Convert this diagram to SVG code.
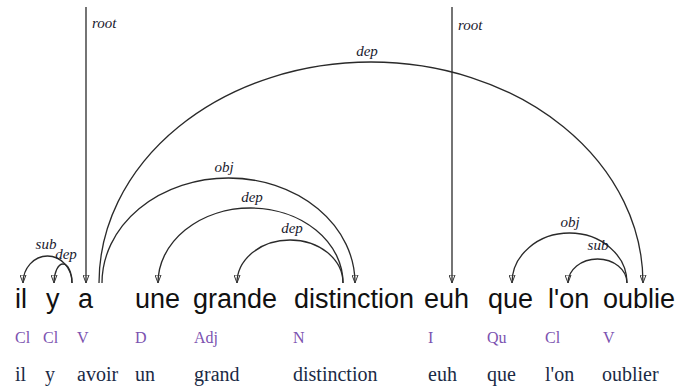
<svg xmlns="http://www.w3.org/2000/svg" width="677" height="389" viewBox="0 0 677 389">
<defs>
<marker id="ah" viewBox="0 0 9 7" refX="8.5" refY="3.5" markerWidth="9" markerHeight="7" markerUnits="userSpaceOnUse" orient="auto">
<path d="M0.5,0.5 L8.5,3.5 L0.5,6.5 Z" fill="none" stroke="#333" stroke-width="1"/>
</marker>
<style>
.e{fill:none;stroke:#2a2a2a;stroke-width:1.3;marker-end:url(#ah)}
.w{font-family:"Liberation Sans",Arial,sans-serif;font-size:27px;fill:#111}
.p{font-family:"Liberation Serif","Times New Roman",serif;font-size:16px;fill:#7b52b0}
.l{font-family:"Liberation Serif","Times New Roman",serif;font-size:20px;fill:#1a2a45}
.lb{font-family:"Liberation Serif","Times New Roman",serif;font-size:15px;font-style:italic;fill:#1a1a2e;text-anchor:middle}
.rt{font-family:"Liberation Serif","Times New Roman",serif;font-size:15px;font-style:italic;fill:#1a1a2e}
</style>
</defs>
<rect width="677" height="389" fill="#fff"/>
<g id="connectors">
<path class="e" d="M86,7 L86,283"/>
<path class="e" d="M452,7 L452,283"/>
<path class="e" d="M72,283 A24.5,27 0 0 0 23,283"/>
<path class="e" d="M72,283 A9,19 0 0 0 54,283"/>
<path class="e" d="M102,283 A126.5,105 0 0 1 355,283"/>
<path class="e" d="M99,283 A272,221 0 0 1 643,283"/>
<path class="e" d="M343,283 A92.5,75 0 0 0 158,283"/>
<path class="e" d="M343,283 A53,43 0 0 0 237,283"/>
<path class="e" d="M627,283 A57.5,50 0 0 0 512,283"/>
<path class="e" d="M627,283 A29.5,24 0 0 0 568,283"/>
</g>
<g id="edge-labels">
<text class="rt" x="92" y="28">root</text>
<text class="rt" x="458" y="30">root</text>
<text class="lb" x="46" y="249">sub</text>
<text class="lb" x="66" y="259">dep</text>
<text class="lb" x="224" y="172">obj</text>
<text class="lb" x="367" y="56">dep</text>
<text class="lb" x="252" y="202">dep</text>
<text class="lb" x="292" y="233">dep</text>
<text class="lb" x="570" y="227">obj</text>
<text class="lb" x="598" y="250">sub</text>
</g>
<g id="n-il"><text class="w" x="15" y="308">il</text><text class="p" x="15" y="343">Cl</text><text class="l" x="15" y="381">il</text></g>
<g id="n-y"><text class="w" x="46" y="308">y</text><text class="p" x="43" y="343">Cl</text><text class="l" x="45" y="381">y</text></g>
<g id="n-a"><text class="w" x="78" y="308">a</text><text class="p" x="77" y="343">V</text><text class="l" x="77" y="381">avoir</text></g>
<g id="n-une"><text class="w" x="135" y="308">une</text><text class="p" x="135" y="343">D</text><text class="l" x="135" y="381">un</text></g>
<g id="n-grande"><text class="w" x="193" y="308">grande</text><text class="p" x="194" y="343">Adj</text><text class="l" x="194" y="381">grand</text></g>
<g id="n-distinction"><text class="w" x="294" y="308">distinction</text><text class="p" x="293" y="343">N</text><text class="l" x="293" y="381">distinction</text></g>
<g id="n-euh"><text class="w" x="424" y="308">euh</text><text class="p" x="428" y="343">I</text><text class="l" x="428" y="381">euh</text></g>
<g id="n-que"><text class="w" x="488" y="308">que</text><text class="p" x="487" y="343">Qu</text><text class="l" x="487" y="381">que</text></g>
<g id="n-lon"><text class="w" x="548" y="308">l'on</text><text class="p" x="545" y="343">Cl</text><text class="l" x="545" y="381">l'on</text></g>
<g id="n-oublie"><text class="w" x="603" y="308">oublie</text><text class="p" x="603" y="343">V</text><text class="l" x="602" y="381">oublier</text></g>
</svg>
